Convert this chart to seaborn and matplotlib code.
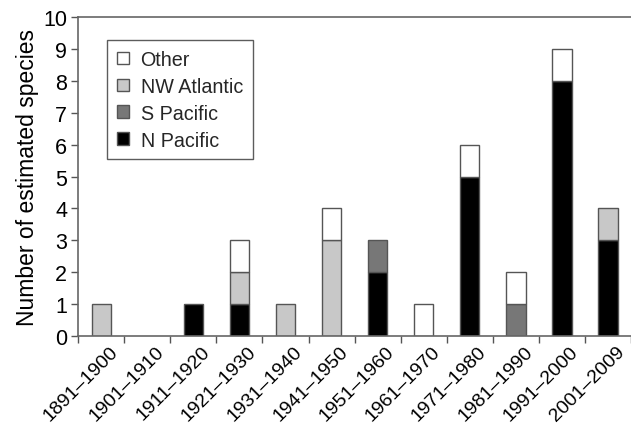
import numpy as np
import pandas as pd
import matplotlib
matplotlib.use("Agg")
import matplotlib.pyplot as plt
import matplotlib.transforms as mtransforms
import seaborn as sns
from matplotlib.patches import Patch

# data
periods = ["1891\u20131900", "1901\u20131910", "1911\u20131920", "1921\u20131930",
           "1931\u20131940", "1941\u20131950", "1951\u20131960", "1961\u20131970",
           "1971\u20131980", "1981\u20131990", "1991\u20132000", "2001\u20132009"]
n_pacific = [0, 0, 1, 1, 0, 0, 2, 0, 5, 0, 8, 3]
s_pacific = [0, 0, 0, 0, 0, 0, 1, 0, 0, 1, 0, 0]
nw_atlantic = [1, 0, 0, 1, 1, 3, 0, 0, 0, 0, 0, 1]
other = [0, 0, 0, 1, 0, 1, 0, 1, 1, 1, 1, 0]

series = [("N Pacific", n_pacific, "#000000"),
          ("S Pacific", s_pacific, "#777777"),
          ("NW Atlantic", nw_atlantic, "#c8c8c8"),
          ("Other", other, "#ffffff")]

sns.set_theme(style="white")
plt.rcParams['font.family'] = ['Liberation Sans', 'DejaVu Sans']

fig = plt.figure(figsize=(6.31, 4.31), dpi=100)
ax = fig.add_axes([0.124, 0.218, 0.876, 0.740])

bottom = np.zeros(len(periods))
for name, vals, col in series:
    vals = np.array(vals, dtype=float)
    df = pd.DataFrame({"period": periods, "count": vals, "base": bottom})
    df = df[df["count"] > 0]
    sns.barplot(data=df, x="period", y="count", order=periods, color=col,
                saturation=1, width=0.42, bottom=df["base"].to_numpy(),
                edgecolor="#555555", linewidth=1.0, ax=ax)
    bottom = bottom + vals

ax.set_xlim(-0.5, len(periods) - 0.5)
ax.set_ylim(0, 10)
ax.set_yticks(range(0, 11))
ax.set_xlabel("")
ax.set_ylabel("Number of estimated species", fontsize=16.5, color="black", labelpad=3)

ax.set_xticks(np.arange(len(periods)))
ax.set_xticklabels(periods, rotation=45, ha="right", rotation_mode="anchor", fontsize=14)
ax.set_xticks(np.arange(-0.5, len(periods), 1.0), minor=True)
ax.tick_params(axis="x", which="major", length=0, pad=5, colors="black")
ax.tick_params(axis="x", which="minor", length=5, width=1, color="#555555", direction="out", bottom=True)
ax.tick_params(axis="y", length=5, width=1, color="#555555", direction="out", left=True,
               labelsize=15.5, labelcolor="black", pad=3)
shift = mtransforms.ScaledTranslation(8 / 100, 0, fig.dpi_scale_trans)
for lbl in ax.get_xticklabels():
    lbl.set_transform(lbl.get_transform() + shift)

for side in ["left", "bottom", "top"]:
    ax.spines[side].set_color("#666666")
    ax.spines[side].set_linewidth(1.2)
ax.spines["right"].set_visible(False)

handles = [Patch(facecolor=col, edgecolor="#555555", label=name) for name, _, col in series[::-1]]
leg = ax.legend(handles=handles, loc="upper left", bbox_to_anchor=(0.052, 0.928), fontsize=14.2,
                frameon=True, fancybox=False, edgecolor="#333333", handlelength=0.6,
                handleheight=0.6, handletextpad=0.6, labelspacing=0.4, borderpad=0.5,
                borderaxespad=0)
leg.get_frame().set_linewidth(1.0)

fig.savefig("out.png", dpi=100)
